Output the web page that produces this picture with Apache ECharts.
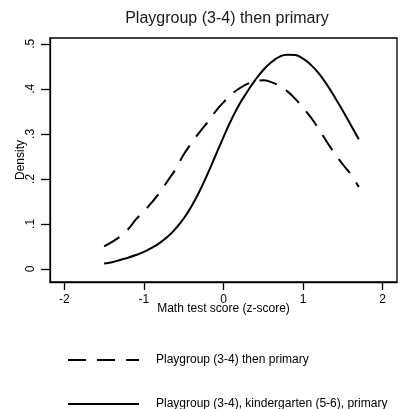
<!DOCTYPE html>
<html>
<head>
<meta charset="utf-8">
<script src="https://cdn.jsdelivr.net/npm/echarts@6/dist/echarts.min.js"></script>
<style>html,body{margin:0;padding:0;background:#fff;}#c{width:411px;height:409px;}</style>
</head>
<body>
<div id="c"></div>
<script>
var xValues = [-1.5,-1.4,-1.3,-1.2,-1.1,-1.0,-0.9,-0.8,-0.7,-0.6,-0.5,-0.4,-0.3,-0.2,-0.1,0.0,0.1,0.2,0.3,0.4,0.5,0.6,0.7,0.8,0.9,1.0,1.1,1.2,1.3,1.4,1.5,1.6,1.7];
var playgroupThenPrimary = [0.050,0.060,0.072,0.088,0.110,0.128,0.148,0.170,0.196,0.222,0.254,0.280,0.304,0.326,0.350,0.370,0.388,0.401,0.411,0.417,0.419,0.415,0.407,0.395,0.378,0.358,0.336,0.310,0.282,0.256,0.232,0.210,0.182];
var playgroupKinderPrimary = [0.012,0.015,0.020,0.025,0.031,0.038,0.047,0.058,0.072,0.090,0.112,0.140,0.173,0.211,0.252,0.293,0.332,0.366,0.394,0.420,0.442,0.459,0.471,0.476,0.475,0.467,0.453,0.434,0.409,0.381,0.351,0.320,0.288];
var xTicks = [-2,-1,0,1,2];
var yTicks = [0,0.1,0.2,0.3,0.4,0.5];
var seriesNames = ['Playgroup (3-4) then primary','Playgroup (3-4), kindergarten (5-6), primary'];

function pairs(ys){ return xValues.map(function(x,i){ return [x, ys[i]]; }); }
var font = 'Liberation Sans, Arial, sans-serif';
function legendFor(name, top){
  return {orient:'horizontal', left:67, top:top, padding:0, itemWidth:71, itemHeight:10,
    data:[name],
    itemStyle:{color:'transparent', borderWidth:0, opacity:0},
    textStyle:{fontFamily:font, fontSize:12, color:'#000', padding:[0,0,0,12]}};
}
var chart = echarts.init(document.getElementById('c'), null, {renderer:'canvas'});
chart.setOption({
  animation:false,
  backgroundColor:'#fff',
  title:{text:'Playgroup (3-4) then primary', left:222, textAlign:'center', top:6,
    textStyle:{fontFamily:font, fontSize:16, fontWeight:'normal', color:'#1a1a1a'}},
  grid:{left:50, right:14, top:38, bottom:127, show:true, borderColor:'#000', borderWidth:1.3, backgroundColor:'#fff'},
  legend:[legendFor(seriesNames[0], 354), legendFor(seriesNames[1], 398)],
  xAxis:{type:'value', min:-2.18, max:2.18,
    name:'Math test score (z-score)', nameLocation:'middle', nameGap:21, nameMoveOverlap:false,
    nameTextStyle:{fontFamily:font, fontSize:12, color:'#000'},
    axisLine:{show:true, onZero:false, lineStyle:{color:'#000', width:1.3}},
    axisTick:{show:true, length:8, customValues:xTicks, lineStyle:{color:'#000', width:1.3}},
    axisLabel:{customValues:xTicks, margin:12, fontFamily:font, fontSize:12, color:'#000',
      formatter:function(v){ return String(v); }},
    splitLine:{show:false}},
  yAxis:{type:'value', min:-0.029, max:0.513,
    name:'Density', nameLocation:'middle', nameGap:23, nameMoveOverlap:false,
    nameTextStyle:{fontFamily:font, fontSize:12, color:'#000'},
    axisLine:{show:true, onZero:false, lineStyle:{color:'#000', width:1.3}},
    axisTick:{show:true, length:9, customValues:yTicks, lineStyle:{color:'#000', width:1.3}},
    axisLabel:{customValues:yTicks, rotate:90, margin:13, fontFamily:font, fontSize:12, color:'#000',
      formatter:function(v){ var s = (Math.round(v*10)/10).toString(); return s === '0' ? '0' : s.replace(/^0/, ''); }},
    splitLine:{show:false}},
  series:[
    {name:seriesNames[0], type:'line', data:pairs(playgroupThenPrimary), symbol:'none', smooth:true,
      lineStyle:{color:'#000', width:2, type:[18,11]}, itemStyle:{color:'#000'}},
    {name:seriesNames[1], type:'line', data:pairs(playgroupKinderPrimary), symbol:'none', smooth:true,
      lineStyle:{color:'#000', width:2, type:'solid'}, itemStyle:{color:'#000'}}
  ]
});
</script>
</body>
</html>
